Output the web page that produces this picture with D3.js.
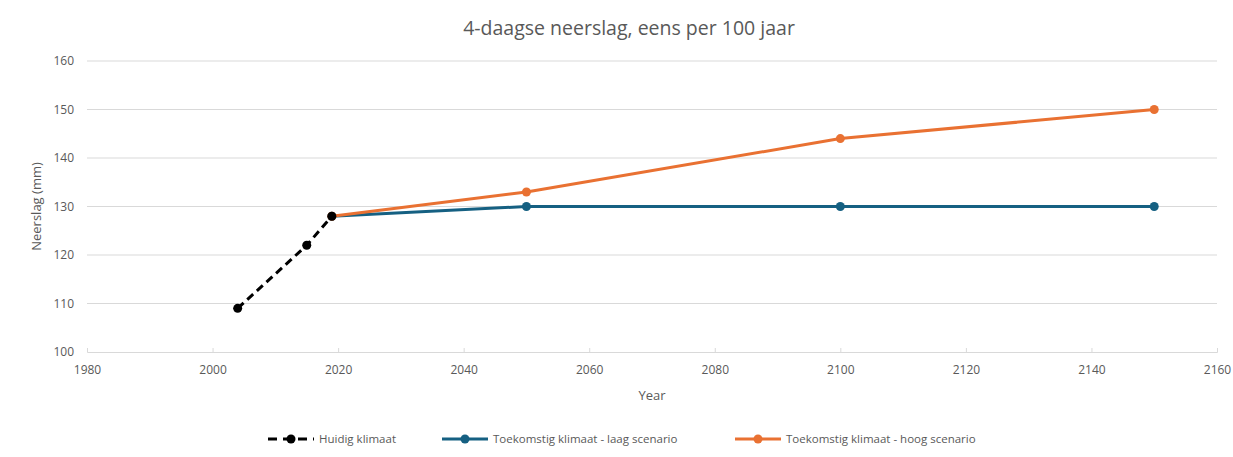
<!DOCTYPE html>
<html><head><meta charset="utf-8">
<script src="https://cdn.jsdelivr.net/npm/d3@7"></script>
<style>body{margin:0;background:#fff}svg{display:block}text{font-family:"Open Sans",sans-serif;fill:#595959}</style>
</head><body><svg id="c" width="1233" height="457"></svg>
<script>
const huidigYears=[2004,2015,2019];
const huidigValues=[109,122,128];
const laagYears=[2019,2050,2100,2150];
const laagValues=[128,130,130,130];
const hoogYears=[2019,2050,2100,2150];
const hoogValues=[128,133,144,150];
const xTicks=[1980,2000,2020,2040,2060,2080,2100,2120,2140,2160];
const yTicks=[100,110,120,130,140,150,160];
const seriesNames=["Huidig klimaat","Toekomstig klimaat - laag scenario","Toekomstig klimaat - hoog scenario"];
const colors=["#000000","#156082","#E97132"];

const svg=d3.select("#c");
const x=d3.scaleLinear().domain([1980,2160]).range([87,1217]);
const y=d3.scaleLinear().domain([100,160]).range([352,61]);

// gridlines
svg.append("g").selectAll("line").data(yTicks.slice(1)).join("line")
 .attr("x1",x(1980)).attr("x2",x(2160)).attr("y1",d=>y(d)).attr("y2",d=>y(d))
 .attr("stroke","#d9d9d9").attr("stroke-width",1);

// axes
const xAxis=svg.append("g").attr("transform",`translate(0,${y(100)})`)
 .call(d3.axisBottom(x).tickValues(xTicks).tickFormat(d3.format("d")).tickSize(-4).tickPadding(13));
xAxis.select(".domain").attr("stroke","#d9d9d9");
xAxis.selectAll(".tick line").attr("stroke","#d9d9d9");
xAxis.selectAll("text").attr("font-size",12).attr("fill","#595959");

const yAxis=svg.append("g").attr("transform",`translate(${x(1980)},0)`)
 .call(d3.axisLeft(y).tickValues(yTicks).tickSize(0).tickPadding(13));
yAxis.select(".domain").remove();
yAxis.selectAll("text").attr("font-size",12).attr("fill","#595959");

// titles
svg.append("text").attr("x",629).attr("y",35).attr("text-anchor","middle").attr("font-size",19.5).text("4-daagse neerslag, eens per 100 jaar");
svg.append("text").attr("x",652).attr("y",400).attr("text-anchor","middle").attr("font-size",13).text("Year");
svg.append("text").attr("transform",`translate(41,${(y(100)+y(160))/2}) rotate(-90)`).attr("text-anchor","middle").attr("font-size",13).text("Neerslag (mm)");

const line=d3.line().x(d=>x(d[0])).y(d=>y(d[1]));
const data=[d3.zip(huidigYears,huidigValues),d3.zip(laagYears,laagValues),d3.zip(hoogYears,hoogValues)];
const dashes=["8,5",null,null];
[1,2,0].forEach(i=>{
 svg.append("path").datum(data[i]).attr("d",line).attr("fill","none").attr("stroke",colors[i])
  .attr("stroke-width",3).attr("stroke-dasharray",dashes[i]).attr("stroke-linejoin","round");
 svg.append("g").selectAll("circle").data(data[i]).join("circle")
  .attr("cx",d=>x(d[0])).attr("cy",d=>y(d[1])).attr("r",4.5).attr("fill",colors[i]);
});

// legend
const legX=[268,442,735];
const lg=svg.append("g");
seriesNames.forEach((n,i)=>{
 const g=lg.append("g").attr("transform",`translate(${legX[i]},439)`);
 g.append("line").attr("x1",0).attr("x2",46).attr("stroke",colors[i]).attr("stroke-width",3).attr("stroke-dasharray",i===0?"9,6":null);
 g.append("circle").attr("cx",23).attr("r",4.5).attr("fill",colors[i]);
 g.append("text").attr("x",51).attr("y",4).attr("font-size",11.5).text(n);
});
</script></body></html>
